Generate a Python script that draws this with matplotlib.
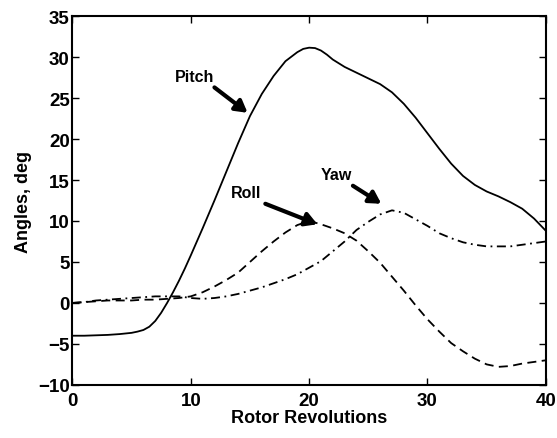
import matplotlib.pyplot as plt

# rotor revolutions and attitude angles (deg)
pitch_rev = [0, 1, 2, 3, 4, 5, 5.5, 6, 6.5, 7, 7.5, 8, 8.5, 9, 9.5, 10, 11, 12, 13, 14,
             15, 16, 17, 18, 19, 19.5, 20, 20.5, 21, 21.5, 22, 23, 24, 25, 26, 27, 28,
             29, 30, 31, 32, 33, 34, 35, 36, 37, 38, 39, 40]
pitch = [-4.0, -4.0, -3.95, -3.9, -3.8, -3.65, -3.5, -3.3, -2.9, -2.2, -1.2, 0.0, 1.3,
         2.7, 4.2, 5.8, 9.1, 12.5, 16.0, 19.5, 22.8, 25.5, 27.7, 29.5, 30.6, 31.0, 31.15,
         31.1, 30.8, 30.3, 29.7, 28.8, 28.1, 27.4, 26.7, 25.7, 24.3, 22.6, 20.7, 18.8,
         17.0, 15.5, 14.4, 13.6, 13.0, 12.3, 11.5, 10.3, 8.8]

rev = list(range(0, 41))
roll = [0.0, 0.1, 0.2, 0.3, 0.3, 0.3, 0.4, 0.4, 0.5, 0.6, 0.8, 1.3, 2.0, 2.8, 3.7, 5.0,
        6.3, 7.5, 8.6, 9.5, 10.0, 9.6, 9.1, 8.5, 7.6, 6.3, 4.9, 3.2, 1.5, -0.3, -2.0,
        -3.5, -4.9, -5.9, -6.8, -7.5, -7.8, -7.7, -7.4, -7.2, -7.0]
yaw = [0.0, 0.1, 0.3, 0.4, 0.5, 0.6, 0.7, 0.8, 0.8, 0.8, 0.6, 0.5, 0.6, 0.8, 1.1, 1.5,
       1.9, 2.4, 2.9, 3.5, 4.3, 5.1, 6.3, 7.5, 8.9, 9.9, 10.8, 11.3, 11.0, 10.2, 9.4,
       8.5, 7.9, 7.4, 7.1, 6.9, 6.9, 6.9, 7.1, 7.3, 7.5]

xticks = [0, 10, 20, 30, 40]
yticks = list(range(-10, 40, 5))

plt.rcParams['font.family'] = ['Liberation Sans', 'DejaVu Sans']
plt.rcParams['font.weight'] = 'bold'

fig = plt.figure(figsize=(5.57, 4.39), dpi=100)
ax = fig.add_axes([0.130, 0.121, 0.850, 0.840])

lw = 1.3
ax.plot(pitch_rev, pitch, color='k', lw=lw)
ax.plot(rev, roll, color='k', lw=lw, dashes=(5, 3))
ax.plot(rev, yaw, color='k', lw=lw, dashes=(5, 2.5, 1, 2.5))

ax.set_xlim(0, 40)
ax.set_ylim(-10, 35)
ax.set_xticks(xticks)
ax.set_yticks(yticks)
ax.tick_params(direction='in', top=True, right=True, length=5, width=1,
               labelsize=13.5)
ax.tick_params(axis='x', pad=5)
ax.tick_params(axis='y', pad=2)
for lab in ax.get_xticklabels() + ax.get_yticklabels():
    lab.set_fontweight('bold')
for s in ax.spines.values():
    s.set_linewidth(1.5)

ax.set_xlabel('Rotor Revolutions', fontsize=13, fontweight='bold', labelpad=0)
ax.set_ylabel('Angles, deg', fontsize=13, fontweight='bold', labelpad=4)

arrow = dict(arrowstyle='-|>,head_length=0.7,head_width=0.4', color='k',
             lw=3, shrinkA=0, shrinkB=0)
notes = [('Pitch', (10.3, 27.6), (12.0, 26.3), (14.8, 23.2)),
         ('Roll', (14.7, 13.5), (16.3, 12.1), (20.7, 9.6)),
         ('Yaw', (22.3, 15.7), (23.7, 14.3), (26.1, 12.1))]
for name, txt_xy, tail, tip in notes:
    ax.text(*txt_xy, name, fontsize=11.5, fontweight='bold', ha='center', va='center')
    ax.annotate('', xy=tip, xytext=tail, arrowprops=arrow)

fig.savefig('out.png', dpi=100)
